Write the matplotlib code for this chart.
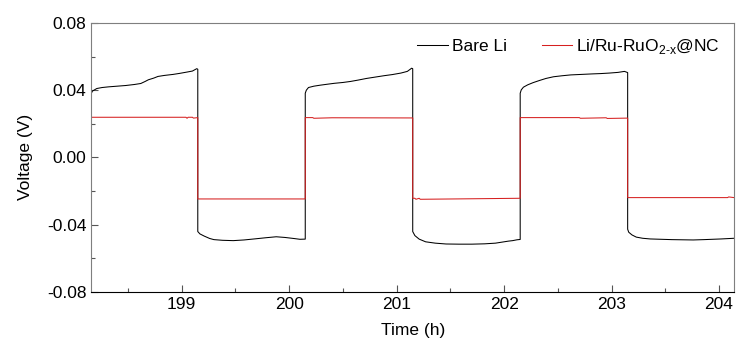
import matplotlib.pyplot as plt

plt.rcParams['font.family'] = ['Liberation Sans', 'DejaVu Sans']
plt.rcParams['mathtext.fontset'] = 'custom'
plt.rcParams['mathtext.rm'] = 'Liberation Sans'

# Bare Li (black)
bare_t = [198.16, 198.17, 198.21, 198.26, 198.32, 198.40, 198.48, 198.56, 198.62, 198.66, 198.69,
          198.74, 198.78, 198.84, 198.92, 198.98, 199.05, 199.10, 199.14, 199.15,
          199.15, 199.17, 199.21, 199.26, 199.30, 199.38, 199.48, 199.58, 199.69, 199.78, 199.88,
          199.96, 200.04, 200.10, 200.15,
          200.15, 200.16, 200.18, 200.23, 200.29, 200.36, 200.42, 200.50, 200.57, 200.64, 200.72,
          200.80, 200.88, 200.96, 201.04, 201.10, 201.14, 201.15,
          201.15, 201.17, 201.21, 201.27, 201.36, 201.46, 201.58, 201.70, 201.82, 201.92, 201.98,
          202.04, 202.08, 202.12, 202.15,
          202.15, 202.16, 202.18, 202.22, 202.27, 202.33, 202.39, 202.46, 202.54, 202.62, 202.72,
          202.82, 202.90, 202.98, 203.06, 203.12, 203.15,
          203.15, 203.16, 203.19, 203.23, 203.29, 203.36, 203.46, 203.56, 203.66, 203.76, 203.86,
          203.94, 204.02, 204.08, 204.14]
bare_v = [0.0382, 0.0395, 0.0410, 0.0416, 0.0420, 0.0424, 0.0428, 0.0434, 0.0440, 0.0452, 0.0462,
          0.0472, 0.0482, 0.0488, 0.0494, 0.0500, 0.0508, 0.0514, 0.0528, 0.0525,
          -0.0441, -0.0455, -0.0468, -0.0482, -0.0489, -0.0493, -0.0495, -0.0491, -0.0484, -0.0478, -0.0472,
          -0.0476, -0.0482, -0.0487, -0.0486,
          0.0382, 0.0400, 0.0416, 0.0424, 0.0430, 0.0436, 0.0441, 0.0446, 0.0452, 0.0460, 0.0470,
          0.0478, 0.0486, 0.0493, 0.0502, 0.0512, 0.0531, 0.0528,
          -0.0441, -0.0465, -0.0486, -0.0502, -0.0510, -0.0515, -0.0516, -0.0516, -0.0514, -0.0510, -0.0504,
          -0.0498, -0.0495, -0.0490, -0.0488,
          0.0382, 0.0402, 0.0418, 0.0432, 0.0445, 0.0458, 0.0470, 0.0480, 0.0486, 0.0491, 0.0494,
          0.0497, 0.0499, 0.0502, 0.0506, 0.0512, 0.0505,
          -0.0427, -0.0445, -0.0461, -0.0474, -0.0481, -0.0485, -0.0487, -0.0489, -0.0490, -0.0491, -0.0489,
          -0.0487, -0.0485, -0.0483, -0.0481]

# Li/Ru-RuO2-x@NC (red) - steps at the same switching times
ru_t = [198.16, 199.04, 199.05, 199.06, 199.10, 199.11, 199.15,
        199.15, 200.15,
        200.15, 200.22, 200.23, 200.40, 201.15,
        201.15, 201.17, 201.18, 201.21, 201.22, 202.15,
        202.15, 202.70, 202.71, 202.95, 202.96, 203.15,
        203.15, 204.08, 204.09, 204.14]
ru_v = [0.0239, 0.0239, 0.0233, 0.0239, 0.0239, 0.0234, 0.0237,
        -0.0247, -0.0247,
        0.0237, 0.0237, 0.0233, 0.0236, 0.0235,
        -0.0243, -0.0243, -0.0249, -0.0243, -0.0249, -0.0243,
        0.0237, 0.0237, 0.0233, 0.0236, 0.0232, 0.0234,
        -0.0239, -0.0239, -0.0235, -0.0239]

fig = plt.figure(figsize=(7.37, 3.43), dpi=100)
ax = fig.add_subplot(111)
fig.subplots_adjust(left=0.124, right=0.996, top=0.933, bottom=0.149)

ax.plot(bare_t, bare_v, color='black', lw=0.75, label='Bare Li')
ax.plot(ru_t, ru_v, color='#d62020', lw=0.75,
        label='Li/Ru-RuO$_{\\mathrm{2}\\text{-}\\mathrm{x}}$@NC')

ax.set_xlim(198.16, 204.14)
ax.set_ylim(-0.08, 0.08)
ax.set_xticks([199, 200, 201, 202, 203, 204])
ax.set_xticks([198.5, 199.5, 200.5, 201.5, 202.5, 203.5], minor=True)
ax.set_yticks([-0.08, -0.04, 0.0, 0.04, 0.08])
ax.set_yticklabels(['-0.08', '-0.04', '0.00', '0.04', '0.08'])
ax.set_yticks([-0.06, -0.02, 0.02, 0.06], minor=True)
ax.tick_params(which='major', direction='in', length=5, width=0.8, labelsize=12.5, colors='black')
ax.tick_params(which='minor', direction='in', length=3, width=0.8)
ax.tick_params(axis='both', which='both', color='#555555')

for s in ['top', 'right', 'left']:
    ax.spines[s].set_color('#7f7f7f')
ax.spines['bottom'].set_color('black')

ax.set_xlabel('Time (h)', fontsize=12.5, labelpad=8)
ax.set_ylabel('Voltage (V)', fontsize=12.5, labelpad=10)

ax.legend(loc='upper right', ncol=2, frameon=False, fontsize=12.5, handlelength=1.75,
          handletextpad=0.25, columnspacing=2.0, borderaxespad=0.4)

fig.savefig('out.png', dpi=100)
